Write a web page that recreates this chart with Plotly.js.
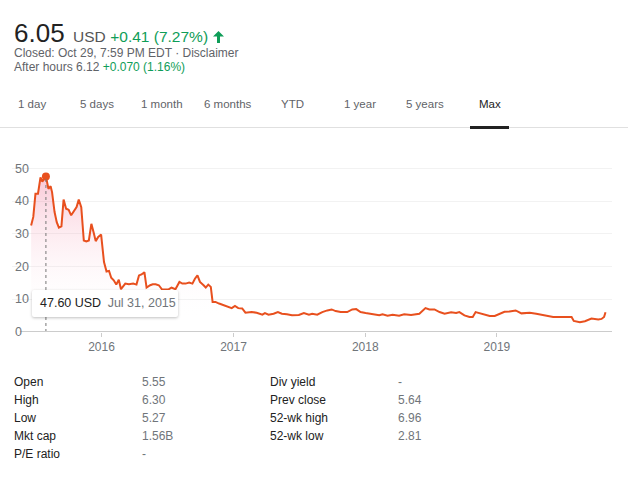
<!DOCTYPE html>
<html>
<head>
    <meta charset="utf-8">
    <script src="https://cdn.plot.ly/plotly-3.0.1.min.js"></script>
    <style>
        body { margin: 0; width: 628px; height: 477px; background: #fff; font-family: Arial, "Liberation Sans", sans-serif; position: relative; overflow: hidden; }
        .abs { position: absolute; white-space: nowrap; }
        .green { color: #0f9d58; }
        .tab { position: absolute; top: 97px; font-size: 11.5px; color: #5f6368; line-height: 14px; }
        .st { position: absolute; font-size: 12px; line-height: 18.15px; }
        .lbl { color: #222; }
        .val { color: #70757a; }
    </style>
</head>
<body>
    <!-- header -->
    <div class="abs" style="left:14px; top:20px; line-height:26px;">
        <span style="font-size:26px; color:#222;">6.05</span>
        <span style="font-size:15.5px; color:#555; margin-left:4px;">USD</span>
        <span class="green" style="font-size:15.5px;">+0.41 (7.27%)</span>
        <svg width="11" height="12" viewBox="0 0 11 12" style="vertical-align:-1px;"><path fill="#0f9d58" d="M5.5 0 L11 5.6 L7 5.6 L7 12 L4 12 L4 5.6 L0 5.6 Z"/></svg>
    </div>
    <div class="abs" style="left:14px; top:47px; font-size:12px; line-height:13.5px; color:#5f6368;">
        Closed: Oct 29, 7:59 PM EDT · Disclaimer<br>
        After hours 6.12 <span class="green">+0.070 (1.16%)</span>
    </div>

    <!-- range tabs -->
    <div class="tab" style="left:18px;">1 day</div>
    <div class="tab" style="left:80px;">5 days</div>
    <div class="tab" style="left:141px;">1 month</div>
    <div class="tab" style="left:204px;">6 months</div>
    <div class="tab" style="left:281px;">YTD</div>
    <div class="tab" style="left:344px;">1 year</div>
    <div class="tab" style="left:406px;">5 years</div>
    <div class="tab" style="left:479px; color:#222;">Max</div>
    <div class="abs" style="left:0; top:127px; width:628px; height:1px; background:#e0e0e0;"></div>
    <div class="abs" style="left:470px; top:126px; width:39px; height:2.5px; background:#222;"></div>

    <div id="myDiv" style="position:absolute; left:0; top:150px; width:628px; height:210px;"></div>

    <!-- hover tooltip -->
    <div class="abs" style="left:32px; top:290px; width:146px; height:27px; background:#fff; border-radius:2px; box-shadow:0 1px 3px rgba(0,0,0,0.25); font-size:12.5px; line-height:27px;">
        <span style="margin-left:8px; color:#222;">47.60 USD</span>
        <span style="margin-left:3px; color:#70757a;">Jul 31, 2015</span>
    </div>

    <!-- key stats -->
    <div class="st lbl" style="left:14px; top:372.5px;">Open<br>High<br>Low<br>Mkt cap<br>P/E ratio</div>
    <div class="st val" style="left:142px; top:372.5px;">5.55<br>6.30<br>5.27<br>1.56B<br>-</div>
    <div class="st lbl" style="left:270px; top:372.5px;">Div yield<br>Prev close<br>52-wk high<br>52-wk low</div>
    <div class="st val" style="left:398px; top:372.5px;">-<br>5.64<br>6.96<br>2.81</div>

    <script>
        // closing prices
        var dates = [
            '2015-06-20','2015-06-26','2015-07-02','2015-07-09','2015-07-16','2015-07-21','2015-07-27','2015-07-31','2015-08-07','2015-08-13',
            '2015-08-17','2015-08-24','2015-08-30','2015-09-05','2015-09-12','2015-09-18','2015-09-25','2015-10-02','2015-10-09','2015-10-16',
            '2015-10-24','2015-10-30','2015-11-06','2015-11-13','2015-11-20','2015-11-27','2015-12-04','2015-12-11','2015-12-16','2015-12-23','2015-12-31',
            '2016-01-08','2016-01-15','2016-01-22','2016-01-28','2016-02-04','2016-02-11','2016-02-18','2016-02-24','2016-03-07','2016-03-17',
            '2016-03-29','2016-04-07','2016-04-14','2016-04-21','2016-04-29','2016-05-05','2016-05-15','2016-05-22','2016-05-30','2016-06-08',
            '2016-06-17','2016-06-24','2016-07-04','2016-07-13','2016-07-24','2016-08-04','2016-08-12','2016-08-21','2016-08-31','2016-09-09',
            '2016-09-16','2016-09-23','2016-09-30','2016-10-10','2016-10-16','2016-10-23','2016-10-30','2016-11-04','2016-11-12','2016-11-22',
            '2016-12-04','2016-12-17','2016-12-27',
            '2017-01-05','2017-01-14','2017-01-25','2017-02-03','2017-02-20','2017-03-06','2017-03-22','2017-03-29','2017-04-08','2017-04-22',
            '2017-05-04','2017-05-15','2017-05-29','2017-06-12','2017-07-01','2017-07-15','2017-07-29','2017-08-07','2017-08-21','2017-09-04',
            '2017-09-18','2017-09-30','2017-10-11','2017-10-25','2017-11-12','2017-11-26','2017-12-07','2017-12-19',
            '2018-01-02','2018-01-21','2018-02-09','2018-02-18','2018-03-04','2018-03-18','2018-04-05','2018-04-19','2018-05-08','2018-05-31',
            '2018-06-17','2018-06-28','2018-07-12','2018-07-26','2018-08-09','2018-08-27','2018-09-10','2018-09-19','2018-10-03','2018-10-17',
            '2018-10-26','2018-11-03','2018-11-14','2018-11-28','2018-12-12','2018-12-26',
            '2019-01-08','2019-01-22','2019-02-05','2019-02-22','2019-03-10','2019-04-02','2019-04-20','2019-05-09','2019-06-06','2019-07-03',
            '2019-07-27','2019-08-02','2019-08-19','2019-09-02','2019-09-20','2019-10-09','2019-10-18','2019-10-25','2019-10-29'
        ];
        var prices = [
            32.6,35.2,42.3,42.3,47.3,46.0,47.0,47.6,43.8,44.6,
            42.8,36.7,33.6,31.9,32.3,40.5,37.7,37.4,35.7,37.0,
            38.2,40.5,38.2,28.0,27.7,28.0,33.1,30.1,27.8,29.1,29.8,
            21.4,18.5,18.7,16.6,15.8,14.5,16.0,13.1,14.8,14.6,
            14.8,14.5,17.3,17.6,18.3,13.6,14.3,14.6,14.6,14.3,
            13.0,13.0,13.0,13.6,13.1,15.3,14.8,14.8,15.1,14.8,
            16.3,17.3,15.3,14.3,13.6,14.5,13.8,9.2,9.2,8.7,
            8.2,7.6,7.3,
            8.0,7.3,7.2,5.9,6.1,5.9,5.3,5.8,5.3,5.6,
            6.1,5.6,5.4,5.1,5.2,5.8,5.3,5.6,5.3,6.1,
            6.6,6.9,6.4,6.1,6.1,6.9,7.0,6.1,
            5.8,5.4,5.1,5.4,5.0,5.3,5.0,5.4,5.2,5.6,
            7.3,6.9,6.9,6.1,5.6,6.0,5.8,6.1,5.1,4.6,
            4.6,6.1,5.8,5.4,4.9,4.9,
            5.6,6.2,6.3,6.6,5.7,5.9,5.6,5.2,4.6,4.6,
            4.6,3.4,3.0,3.3,4.1,3.8,4.0,4.6,6.05
        ];
        var hoverDate = ['2015-07-31'];
        var hoverPrice = [47.6];
        var yearTicks = ['2016-01-01', '2017-01-01', '2018-01-01', '2019-01-01'];
        var yearLabels = ['2016', '2017', '2018', '2019'];
        var priceTicks = [0, 10, 20, 30, 40, 50];

        var lineColor = '#e8501e';

        var data = [{
            x: dates,
            y: prices,
            type: 'scatter',
            mode: 'lines',
            line: { color: lineColor, width: 2 },
            fill: 'tozeroy',
            fillgradient: {
                type: 'vertical',
                start: 4,
                stop: 50,
                colorscale: [[0, 'rgba(255,255,255,0)'], [1, 'rgba(236,72,120,0.33)']]
            },
            hoverinfo: 'skip'
        }, {
            x: hoverDate,
            y: hoverPrice,
            type: 'scatter',
            mode: 'markers',
            marker: { color: lineColor, size: 8 },
            hoverinfo: 'skip'
        }];

        // y labels sit inside the plot, left aligned (plotly hides inside labels at the edges)
        var yLabels = priceTicks.map(function(v) {
            return {
                xref: 'paper', yref: 'y', x: 0, y: v,
                xanchor: 'left', yanchor: 'middle', xshift: 1,
                text: String(v), showarrow: false,
                font: { size: 12.5, color: '#70757a' }
            };
        });

        var layout = {
            width: 628,
            height: 210,
            margin: { l: 12, r: 16, t: 12, b: 28 },
            paper_bgcolor: 'rgba(0,0,0,0)',
            plot_bgcolor: 'rgba(0,0,0,0)',
            showlegend: false,
            font: { family: 'Arial, "Liberation Sans", sans-serif', color: '#70757a', size: 12.5 },
            xaxis: {
                type: 'date',
                range: ['2015-04-28', '2019-11-16'],
                tickvals: yearTicks,
                ticktext: yearLabels,
                ticks: 'outside',
                ticklen: 4,
                tickcolor: '#cccccc',
                showgrid: false,
                showline: false,
                zeroline: false,
                tickfont: { size: 12, color: '#70757a' }
            },
            yaxis: {
                range: [0, 52],
                tickvals: priceTicks,
                showticklabels: false,
                showgrid: true,
                gridcolor: '#f2f2f2',
                zeroline: false,
                showline: false,
                fixedrange: true
            },
            annotations: yLabels,
            shapes: [{
                // dotted hover guide
                type: 'line', xref: 'x', yref: 'y',
                x0: hoverDate[0], x1: hoverDate[0], y0: 0, y1: hoverPrice[0],
                line: { color: '#777', width: 1, dash: 'dot' }
            }, {
                // baseline
                type: 'line', xref: 'paper', yref: 'y',
                x0: 0.013, x1: 1, y0: 0, y1: 0,
                line: { color: '#cccccc', width: 2 }
            }]
        };

        var config = { displayModeBar: false, staticPlot: true };

        Plotly.newPlot('myDiv', data, layout, config);
    </script>
</body>
</html>
